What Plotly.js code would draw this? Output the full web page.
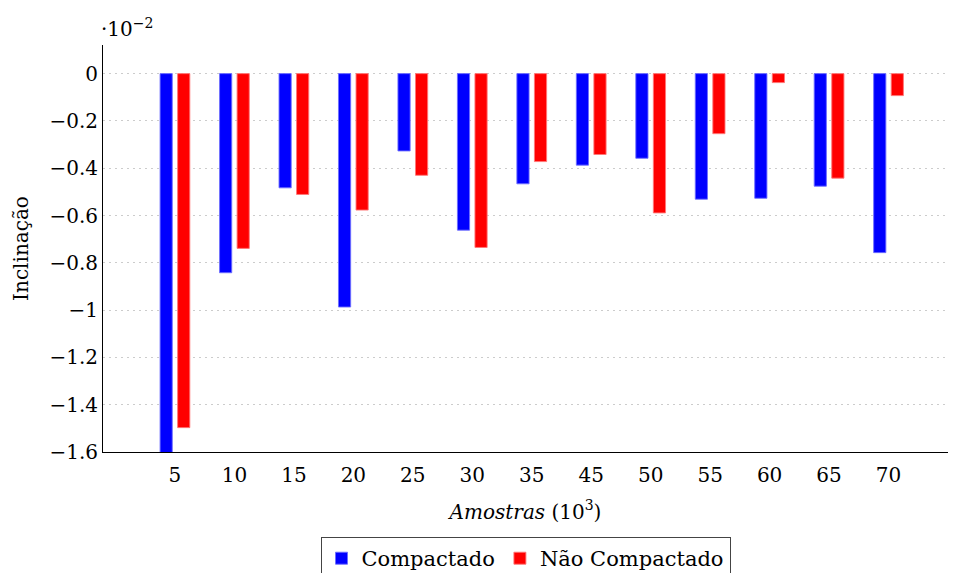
<!DOCTYPE html>
<html>
<head>
<meta charset="utf-8">
<script src="https://cdn.plot.ly/plotly-3.0.1.min.js"></script>
<style>html,body{margin:0;padding:0;background:#fff;}#chart{width:955px;height:573px;}</style>
</head>
<body>
<div id="chart"></div>
<script>
const categories = ["5","10","15","20","25","30","35","45","50","55","60","65","70"];
const compactado = [-1.62,-0.842,-0.483,-0.987,-0.327,-0.662,-0.466,-0.387,-0.358,-0.531,-0.527,-0.476,-0.757];
const naoCompactado = [-1.497,-0.739,-0.511,-0.577,-0.430,-0.735,-0.372,-0.342,-0.589,-0.254,-0.038,-0.442,-0.093];
const yTickVals = [0,-0.2,-0.4,-0.6,-0.8,-1,-1.2,-1.4,-1.6];
const yTickText = ["0","\u22120.2","\u22120.4","\u22120.6","\u22120.8","\u22121","\u22121.2","\u22121.4","\u22121.6"];

const font = "DejaVu Serif";

const traces = [
  {type:"bar", name:"Compactado", x:categories, y:compactado,
   offset:-0.25, width:0.205,
   marker:{color:"#0000ff", line:{color:"rgba(110,110,255,0.9)", width:1}}},
  {type:"bar", name:"Não Compactado", x:categories, y:naoCompactado,
   offset:0.045, width:0.205,
   marker:{color:"#ff0000", line:{color:"rgba(255,120,120,0.9)", width:1}}}
];

const layout = {
  width:955, height:573,
  margin:{l:103, r:7, t:45, b:121, autoexpand:false},
  paper_bgcolor:"#fff", plot_bgcolor:"#fff",
  barmode:"overlay",
  showlegend:true,
  font:{family:font, size:20, color:"#000"},
  xaxis:{
    type:"category", automargin:false,
    range:[-1.21, 13.0],
    tickmode:"array", tickvals:categories, ticktext:categories,
    showgrid:false, zeroline:false,
    showline:true, linecolor:"#000", linewidth:1,
    ticks:"", ticklabelstandoff:5, tickfont:{family:font, size:20},
    title:{text:"<i>Amostras</i> (10<sup>3</sup>)", font:{family:font, size:20}, standoff:18}
  },
  yaxis:{
    automargin:false,
    range:[-1.6, 0.121],
    tickmode:"array", tickvals:yTickVals, ticktext:yTickText,
    showgrid:true, gridcolor:"#cccccc", griddash:"2px,4px", gridwidth:1,
    zeroline:false,
    showline:true, linecolor:"#000", linewidth:1,
    ticks:"", tickfont:{family:font, size:20},
    title:{text:"Inclinação", font:{family:font, size:20}, standoff:15}
  },
  legend:{
    orientation:"h", x:0.5, xanchor:"center",
    y:-0.209, yanchor:"top",
    bordercolor:"#444", borderwidth:1,
    font:{family:font, size:21},
    itemwidth:30
  },
  annotations:[
    {xref:"paper", yref:"paper", x:0, y:1, xanchor:"left", yanchor:"bottom",
     xshift:-4, yshift:2,
     text:"\u00b710<sup>\u22122</sup>", showarrow:false, font:{family:font, size:20}}
  ]
};

Plotly.newPlot("chart", traces, layout, {displayModeBar:false, staticPlot:true});
</script>
</body>
</html>
